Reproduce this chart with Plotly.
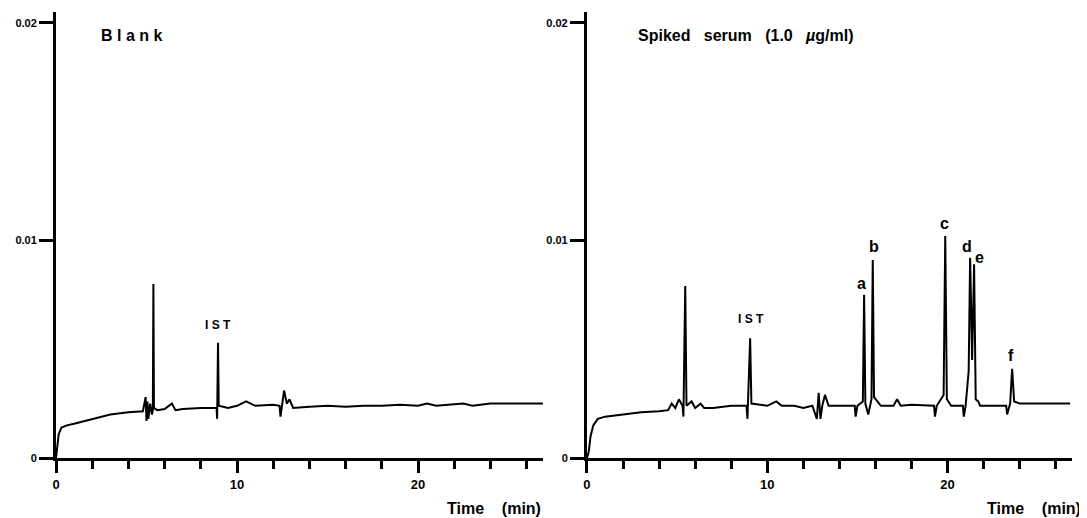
import plotly.graph_objects as go

# ---------------- data ----------------
blank_time = [0, 0.05, 0.15, 0.3, 0.6, 1.0, 2.0, 3.0, 4.0, 4.8, 4.95, 5.0, 5.05, 5.1, 5.2, 5.3, 5.35, 5.38,
              5.41, 5.6, 6.0, 6.4, 6.6, 7.0, 8.0, 8.87, 8.9, 8.95, 8.99, 9.5, 10.0, 10.5, 11.0, 12.0, 12.35,
              12.4, 12.6, 12.75, 12.9, 13.1, 14.0, 15.0, 16.0, 17.0, 18.0, 19.0, 20.0, 20.5, 21.0, 22.0,
              22.5, 23.0, 24.0, 25.0, 26.0, 26.9]
blank_signal = [0, 0.0004, 0.0011, 0.0014, 0.0015, 0.00157, 0.0018, 0.0020, 0.0021, 0.00215, 0.0028, 0.0017,
                0.0026, 0.0018, 0.0025, 0.0020, 0.0022, 0.0080, 0.0023, 0.0022, 0.00225, 0.0025, 0.0022,
                0.00225, 0.0023, 0.0023, 0.0018, 0.0053, 0.0024, 0.0023, 0.0024, 0.0026, 0.0024, 0.00245,
                0.0024, 0.0019, 0.0031, 0.0025, 0.0027, 0.0023, 0.00235, 0.0024, 0.00235, 0.0024, 0.0024,
                0.00245, 0.0024, 0.0025, 0.0024, 0.00245, 0.0025, 0.0024, 0.0025, 0.0025, 0.0025, 0.0025]

spiked_time = [0, 0.1, 0.2, 0.35, 0.6, 1.0, 2.0, 3.0, 4.0, 4.5, 4.7, 4.9, 5.1, 5.3, 5.35, 5.45, 5.52, 5.8,
               6.0, 6.3, 6.5, 7.0, 8.0, 8.85, 8.9, 9.05, 9.12, 10.0, 10.5, 10.8, 11.5, 12.0, 12.5, 12.75,
               12.85, 12.95, 13.05, 13.2, 13.4, 14.0, 14.85, 14.9, 15.0, 15.3, 15.37, 15.44, 15.6, 15.78,
               15.85, 15.92, 16.1, 16.3, 17.0, 17.2, 17.4, 18.0, 19.25, 19.3, 19.4, 19.78, 19.87, 19.96,
               20.2, 20.85, 20.9, 21.0, 21.17, 21.25, 21.36, 21.47, 21.56, 21.7, 21.8, 22.5, 23.25, 23.3,
               23.47, 23.58, 23.69, 24.0, 25.0, 26.0, 26.8]
spiked_signal = [0, 0.0003, 0.0010, 0.0015, 0.0018, 0.0019, 0.0020, 0.0021, 0.00215, 0.0022, 0.0025, 0.0023,
                 0.0027, 0.0024, 0.0019, 0.0079, 0.0024, 0.0026, 0.0023, 0.0025, 0.0023, 0.0023, 0.0024,
                 0.0024, 0.0018, 0.0055, 0.0025, 0.0024, 0.0026, 0.0024, 0.0024, 0.0023, 0.0024, 0.0018,
                 0.0030, 0.0018, 0.0024, 0.0029, 0.0024, 0.0024, 0.0024, 0.0019, 0.0024, 0.0026, 0.0075,
                 0.0025, 0.0020, 0.0027, 0.0091, 0.0028, 0.0026, 0.0024, 0.0024, 0.0027, 0.0024, 0.00245,
                 0.0024, 0.0019, 0.0024, 0.0029, 0.0102, 0.0027, 0.0024, 0.0024, 0.0019, 0.0024, 0.0040,
                 0.0092, 0.0045, 0.0089, 0.0027, 0.0026, 0.0024, 0.0024, 0.0024, 0.0020, 0.0025, 0.0041,
                 0.0026, 0.0025, 0.0025, 0.0025, 0.0025]

peak_labels = ["a", "b", "c", "d", "e", "f"]
peak_label_time = [15.2, 15.9, 19.85, 21.05, 21.75, 23.5]
peak_label_signal = [0.0080, 0.0097, 0.0108, 0.0097, 0.0092, 0.0047]

ist_time = [8.95, 9.1]
ist_signal = [0.0061, 0.0064]

x_tick_values = [0, 10, 20]
x_tick_text = ["0", "10", "20"]
y_tick_values = [0, 0.01, 0.02]
y_tick_text = ["0", "0.01", "0.02"]

panel_titles = ["B l a n k", "Spiked&nbsp;&nbsp;&nbsp;serum&nbsp;&nbsp;&nbsp;(1.0&nbsp;&nbsp;&nbsp;<i>µ</i>g/ml)"]
x_axis_title = "Time&nbsp;&nbsp;&nbsp;&nbsp;(min)"

# ---------------- figure ----------------
# the page body has an 8 px margin, so the figure is drawn 8 px smaller and offset
FONT = "Liberation Sans"
fig = go.Figure()
fig.add_trace(go.Scatter(x=blank_time, y=blank_signal, mode="lines",
                         line=dict(color="black", width=2), xaxis="x", yaxis="y", showlegend=False))
fig.add_trace(go.Scatter(x=spiked_time, y=spiked_signal, mode="lines",
                         line=dict(color="black", width=2), xaxis="x2", yaxis="y2", showlegend=False))

xcommon = dict(range=[0, 26.9], showline=True, linewidth=3, linecolor="black", showgrid=False,
               zeroline=False, ticks="outside", ticklen=12, tickwidth=3, tickcolor="black",
               tickvals=x_tick_values, ticktext=x_tick_text, automargin=False,
               tickfont=dict(family=FONT, size=13, color="black", weight="bold"),
               minor=dict(dtick=2, tick0=0, ticks="outside", ticklen=8, tickwidth=3, tickcolor="black",
                          showgrid=False))
ycommon = dict(range=[0, 0.0205], showline=True, linewidth=3, linecolor="black", showgrid=False,
               zeroline=False, ticks="outside", ticklen=14, tickwidth=3, tickcolor="black",
               tickvals=y_tick_values, ticktext=y_tick_text, automargin=False,
               tickfont=dict(family=FONT, size=11, color="black", weight="bold"))

fig.update_layout(
    width=1079, height=510,
    margin=dict(l=48, r=15, t=4, b=60, autoexpand=False),
    paper_bgcolor="white", plot_bgcolor="white",
    xaxis=dict(domain=[0, 0.4793], anchor="y", **xcommon),
    yaxis=dict(domain=[0, 1], anchor="x", **ycommon),
    xaxis2=dict(domain=[0.5226, 1], anchor="y2", **xcommon),
    yaxis2=dict(domain=[0, 1], anchor="x2", **ycommon),
)

annots = []
# panel titles
annots.append(dict(x=2.4, y=0.0194, xref="x", yref="y", text=panel_titles[0], showarrow=False,
                   xanchor="left", yanchor="middle",
                   font=dict(family=FONT, size=16, color="black", weight="bold")))
annots.append(dict(x=2.7, y=0.0194, xref="x2", yref="y2", text=panel_titles[1], showarrow=False,
                   xanchor="left", yanchor="middle",
                   font=dict(family=FONT, size=16, color="black", weight="bold")))
# IST labels
annots.append(dict(x=ist_time[0], y=ist_signal[0], xref="x", yref="y", text="I S T", showarrow=False,
                   xanchor="center", yanchor="middle",
                   font=dict(family=FONT, size=12, color="black", weight="bold")))
annots.append(dict(x=ist_time[1], y=ist_signal[1], xref="x2", yref="y2", text="I S T", showarrow=False,
                   xanchor="center", yanchor="middle",
                   font=dict(family=FONT, size=12, color="black", weight="bold")))
# peak labels
for lab, t, s in zip(peak_labels, peak_label_time, peak_label_signal):
    annots.append(dict(x=t, y=s, xref="x2", yref="y2", text=lab, showarrow=False,
                       xanchor="center", yanchor="middle",
                       font=dict(family=FONT, size=16, color="black", weight="bold")))
# x-axis titles (paper coords relative to plot area 56..1072 x 12..458 of the page)
annots.append(dict(x=(543 - 56) / 1016, y=-(508 - 458) / 446, xref="paper", yref="paper", text=x_axis_title,
                   showarrow=False, xanchor="right", yanchor="middle",
                   font=dict(family=FONT, size=16, color="black", weight="bold")))
annots.append(dict(x=(1083 - 56) / 1016, y=-(508 - 458) / 446, xref="paper", yref="paper", text=x_axis_title,
                   showarrow=False, xanchor="right", yanchor="middle",
                   font=dict(family=FONT, size=16, color="black", weight="bold")))
fig.update_layout(annotations=annots)

fig.write_html("out.html")
